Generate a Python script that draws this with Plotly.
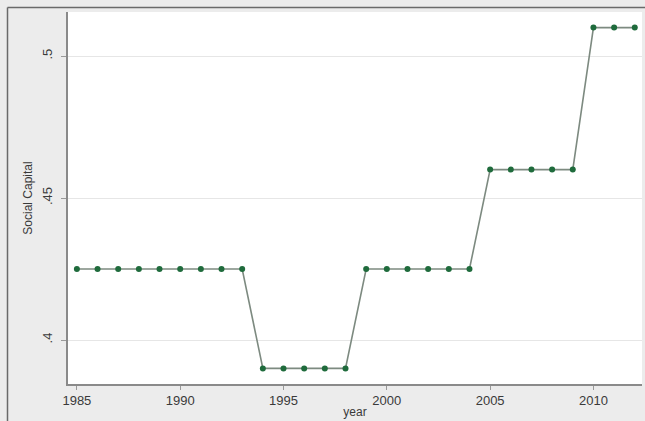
import plotly.graph_objects as go

# Social capital index by year
years = list(range(1985, 2013))
social_capital = [
    0.425, 0.425, 0.425, 0.425, 0.425, 0.425, 0.425, 0.425, 0.425,  # 1985-1993
    0.39, 0.39, 0.39, 0.39, 0.39,                                     # 1994-1998
    0.425, 0.425, 0.425, 0.425, 0.425, 0.425,                         # 1999-2004
    0.46, 0.46, 0.46, 0.46, 0.46,                                     # 2005-2009
    0.51, 0.51, 0.51,                                                 # 2010-2012
]
x_ticks = [1985, 1990, 1995, 2000, 2005, 2010]
y_ticks = [0.4, 0.45, 0.5]
y_tick_text = [".4", ".45", ".5"]

W, H = 645, 421
L, R, T, B = 68, 3, 12, 37

fig = go.Figure()
fig.add_trace(go.Scatter(
    x=years, y=social_capital, mode="lines+markers",
    line=dict(color="#7d8a80", width=1.6),
    marker=dict(color="#1f6b3c", size=6),
    showlegend=False,
))

plot_w = W - L - R
plot_h = H - T - B
# outer frame around the graph region
fx0 = (7.5 - L) / plot_w
fy0 = (H - B - 7.5) / plot_h
fig.add_shape(type="line", xref="paper", yref="paper", x0=fx0, x1=1.05, y0=fy0, y1=fy0,
              line=dict(color="#6a6a6a", width=1.5))
fig.add_shape(type="line", xref="paper", yref="paper", x0=fx0, x1=fx0, y0=fy0, y1=-0.2,
              line=dict(color="#6a6a6a", width=1.5))

fig.update_layout(
    width=W, height=H,
    margin=dict(l=L, r=R, t=T, b=B),
    paper_bgcolor="#ececec",
    plot_bgcolor="#ffffff",
    font=dict(family="Liberation Sans, Arial, sans-serif", color="#3a3a3a", size=13),
    xaxis=dict(
        range=[1984.57, 2012.35], tickvals=x_ticks, showgrid=False, zeroline=False,
        showline=True, linecolor="#8a8a8a", linewidth=1.5,
        ticks="outside", ticklen=4, tickcolor="#9a9a9a",
        tickfont=dict(size=13), ticklabelstandoff=0,
        title=dict(text="year", font=dict(size=12), standoff=0),
    ),
    yaxis=dict(
        range=[0.38451, 0.5155], tickvals=y_ticks, ticktext=y_tick_text,
        tickangle=-90, showgrid=True, gridcolor="#e6e6e6", gridwidth=1, zeroline=False,
        showline=True, linecolor="#8a8a8a", linewidth=1.5,
        ticks="outside", ticklen=5, tickcolor="#9a9a9a",
        tickfont=dict(size=13), ticklabelstandoff=4,
        title=dict(text="Social Capital", font=dict(size=12), standoff=5),
    ),
)

fig.write_html("out.html")
